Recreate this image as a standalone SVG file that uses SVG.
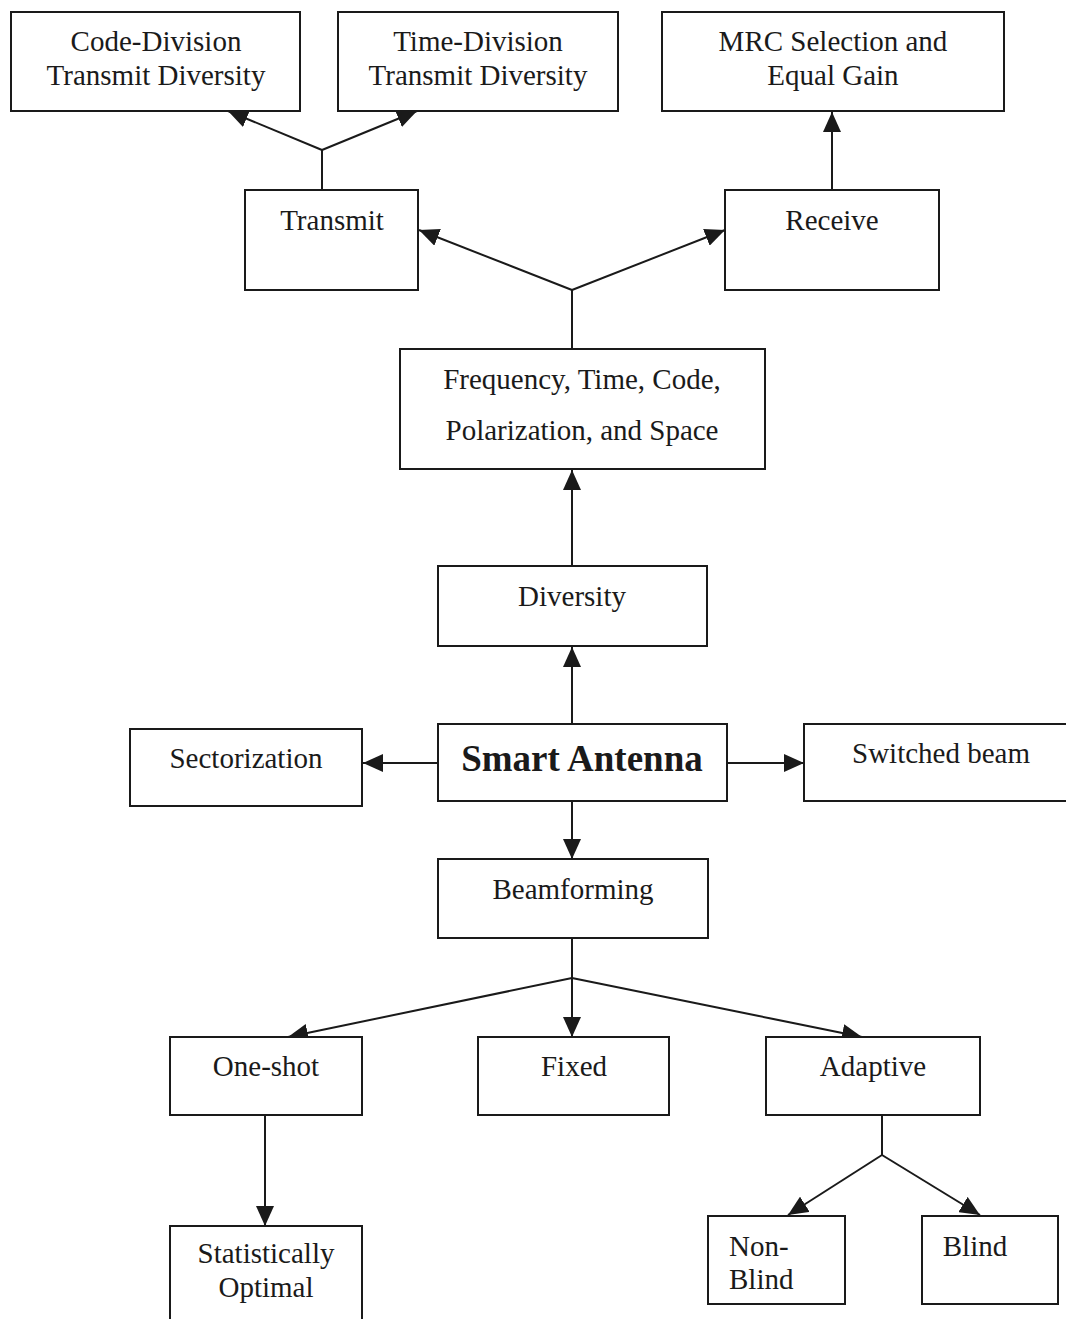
<svg xmlns="http://www.w3.org/2000/svg" width="1066" height="1319" viewBox="0 0 1066 1319">
<style>
.box{fill:#fff;stroke:#1a1a1a;stroke-width:2}
.t{font-family:"Liberation Serif","Times New Roman",serif;font-size:29px;fill:#1a1a1a;text-anchor:middle}
.b{font-weight:bold;font-size:37px}
.l{text-anchor:start}
.c{fill:none;stroke:#1a1a1a;stroke-width:2}
</style>
<defs>
<marker id="ah" viewBox="0 0 20 18" refX="20" refY="9" markerWidth="20" markerHeight="18" markerUnits="userSpaceOnUse" orient="auto">
<path d="M0,0 L20,9 L0,18 Z" fill="#1a1a1a"/>
</marker>
</defs>
<rect width="1066" height="1319" fill="#fff"/>
<g id="connectors">
<polyline class="c" points="322,190 322,150"/>
<line class="c" x1="322" y1="150" x2="228" y2="111" marker-end="url(#ah)"/>
<line class="c" x1="322" y1="150" x2="417" y2="111" marker-end="url(#ah)"/>
<line class="c" x1="572" y1="349" x2="572" y2="290"/>
<line class="c" x1="572" y1="290" x2="419" y2="230" marker-end="url(#ah)"/>
<line class="c" x1="572" y1="290" x2="725" y2="230" marker-end="url(#ah)"/>
<line class="c" x1="832" y1="190" x2="832" y2="112" marker-end="url(#ah)"/>
<line class="c" x1="572" y1="566" x2="572" y2="470" marker-end="url(#ah)"/>
<line class="c" x1="572" y1="724" x2="572" y2="647" marker-end="url(#ah)"/>
<line class="c" x1="438" y1="763" x2="363" y2="763" marker-end="url(#ah)"/>
<line class="c" x1="727" y1="763" x2="804" y2="763" marker-end="url(#ah)"/>
<line class="c" x1="572" y1="801" x2="572" y2="859" marker-end="url(#ah)"/>
<line class="c" x1="572" y1="938" x2="572" y2="978"/>
<line class="c" x1="572" y1="978" x2="288" y2="1037" marker-end="url(#ah)"/>
<line class="c" x1="572" y1="978" x2="572" y2="1037" marker-end="url(#ah)"/>
<line class="c" x1="572" y1="978" x2="862" y2="1037" marker-end="url(#ah)"/>
<line class="c" x1="265" y1="1115" x2="265" y2="1226" marker-end="url(#ah)"/>
<line class="c" x1="882" y1="1115" x2="882" y2="1155"/>
<line class="c" x1="882" y1="1155" x2="788" y2="1215" marker-end="url(#ah)"/>
<line class="c" x1="882" y1="1155" x2="980" y2="1215" marker-end="url(#ah)"/>
</g>
<g id="code-division"><rect class="box" x="11" y="12" width="289" height="99"/><text class="t" x="156" y="51">Code-Division</text><text class="t" x="156" y="85">Transmit Diversity</text></g>
<g id="time-division"><rect class="box" x="338" y="12" width="280" height="99"/><text class="t" x="478" y="51">Time-Division</text><text class="t" x="478" y="85">Transmit Diversity</text></g>
<g id="mrc"><rect class="box" x="662" y="12" width="342" height="99"/><text class="t" x="833" y="51">MRC Selection and</text><text class="t" x="833" y="85">Equal Gain</text></g>
<g id="transmit"><rect class="box" x="245" y="190" width="173" height="100"/><text class="t" x="332" y="230">Transmit</text></g>
<g id="receive"><rect class="box" x="725" y="190" width="214" height="100"/><text class="t" x="832" y="230">Receive</text></g>
<g id="frequency"><rect class="box" x="400" y="349" width="365" height="120"/><text class="t" x="582" y="389">Frequency, Time, Code,</text><text class="t" x="582" y="440">Polarization, and Space</text></g>
<g id="diversity"><rect class="box" x="438" y="566" width="269" height="80"/><text class="t" x="572" y="606">Diversity</text></g>
<g id="smart-antenna"><rect class="box" x="438" y="724" width="289" height="77"/><text class="t b" x="582" y="771">Smart Antenna</text></g>
<g id="sectorization"><rect class="box" x="130" y="729" width="232" height="77"/><text class="t" x="246" y="768">Sectorization</text></g>
<g id="switched-beam"><rect class="box" x="804" y="724" width="270" height="77"/><text class="t" x="941" y="763">Switched beam</text></g>
<g id="beamforming"><rect class="box" x="438" y="859" width="270" height="79"/><text class="t" x="573" y="899">Beamforming</text></g>
<g id="one-shot"><rect class="box" x="170" y="1037" width="192" height="78"/><text class="t" x="266" y="1076">One-shot</text></g>
<g id="fixed"><rect class="box" x="478" y="1037" width="191" height="78"/><text class="t" x="574" y="1076">Fixed</text></g>
<g id="adaptive"><rect class="box" x="766" y="1037" width="214" height="78"/><text class="t" x="873" y="1076">Adaptive</text></g>
<g id="statistically-optimal"><rect class="box" x="170" y="1226" width="192" height="100"/><text class="t" x="266" y="1263">Statistically</text><text class="t" x="266" y="1297">Optimal</text></g>
<g id="non-blind"><rect class="box" x="708" y="1216" width="137" height="88"/><text class="t l" x="729" y="1256">Non-</text><text class="t l" x="729" y="1289">Blind</text></g>
<g id="blind"><rect class="box" x="922" y="1216" width="136" height="88"/><text class="t" x="975" y="1256">Blind</text></g>
</svg>
